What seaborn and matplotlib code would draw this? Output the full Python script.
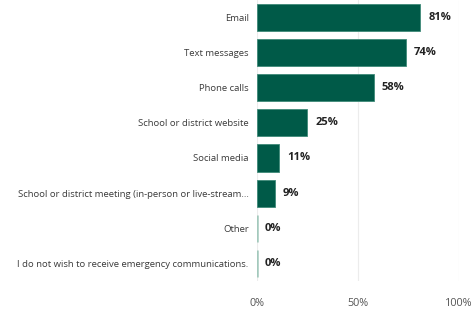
import matplotlib
matplotlib.use("Agg")
import matplotlib.pyplot as plt
import seaborn as sns
import pandas as pd

categories = [
    "Email",
    "Text messages",
    "Phone calls",
    "School or district website",
    "Social media",
    "School or district meeting (in-person or live-stream...",
    "Other",
    "I do not wish to receive emergency communications.",
]
values = [81, 74, 58, 25, 11, 9, 0, 0]
xticks = [0, 50, 100]
xtick_labels = ["0%", "50%", "100%"]

df = pd.DataFrame({"category": categories, "value": values})

sns.set_theme(style="white")
plt.rcParams["font.family"] = ["Open Sans", "DejaVu Sans"]

fig = plt.figure(figsize=(4.75, 3.10), dpi=100)
ax = fig.add_axes([0.541, 0.094, 0.425, 0.906])

bar_color = "#005a48"
sns.barplot(data=df, x="value", y="category", color=bar_color, width=0.77,
            saturation=1, ax=ax, orient="h")

for p, v in zip(ax.patches, values):
    if v == 0:
        p.set_edgecolor("#a3c9bc")
        p.set_linewidth(1.8)
    else:
        p.set_edgecolor("#3f8a78")
        p.set_linewidth(0.6)

for i, v in enumerate(values):
    ax.annotate(f"{v}%", (v, i), xytext=(5.5, 0), textcoords="offset points",
                ha="left", va="center", fontsize=8, fontweight="bold",
                color="#222222")

ax.set_xlim(0, 100)
ax.set_ylim(7.5, -0.5)
ax.set_xticks(xticks)
ax.set_xticklabels(xtick_labels)
ax.xaxis.grid(True, color="#ececec", linewidth=0.8)
ax.set_axisbelow(True)
ax.set_xlabel("")
ax.set_ylabel("")
for s in ax.spines.values():
    s.set_visible(False)
ax.tick_params(axis="x", length=0, pad=12, labelsize=7.8, labelcolor="#555555")
ax.tick_params(axis="y", length=0, pad=6, labelsize=6.8, labelcolor="#3a3a3a")

fig.savefig("out.png", dpi=100)
